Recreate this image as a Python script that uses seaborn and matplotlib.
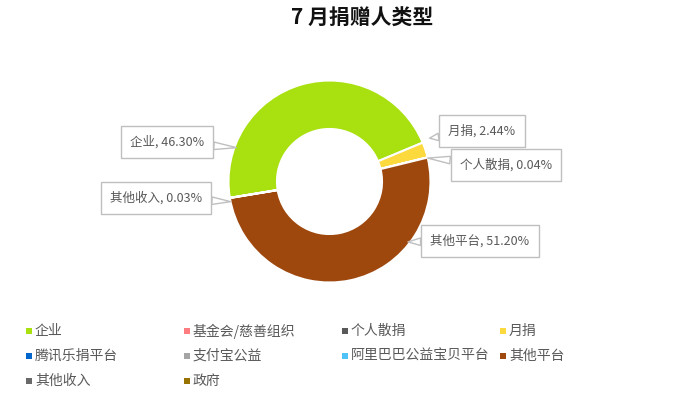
import numpy as np
import matplotlib
matplotlib.use("Agg")
import matplotlib.pyplot as plt
import seaborn as sns

# 数据
categories = ['企业', '基金会/慈善组织', '个人散捐', '月捐',
              '腾讯乐捐平台', '支付宝公益', '阿里巴巴公益宝贝平台', '其他平台',
              '其他收入', '政府']
shares = [46.30, 0.0, 0.04, 2.44, 0.0, 0.0, 0.0, 51.20, 0.03, 0.0]
colors = ['#a8e010', '#ff7c80', '#595959', '#fcd93c',
          '#0066cc', '#a5a5a5', '#4fc3f7', '#9e480e',
          '#696969', '#997300']
# 环形图中扇区的顺时针顺序
pie_order = ['企业', '月捐', '个人散捐', '其他平台', '其他收入']
title = '7 月捐赠人类型'

# 样式
sns.set_theme(style='white')
plt.rcParams['font.family'] = ['Noto Sans CJK SC', 'DejaVu Sans']

W, H = 700, 400
fig = plt.figure(figsize=(7, 4), dpi=100)
ax = fig.add_axes([0, 0, 1, 1])

center = (329.5, H - 181.5)
radius = 101
hole = 0.52

vals = [shares[categories.index(c)] for c in pie_order]
cols = [colors[categories.index(c)] for c in pie_order]
wedges, _ = ax.pie(vals, colors=cols, startangle=189.3, counterclock=False,
                   center=center, radius=radius, frame=True,
                   wedgeprops=dict(width=radius * (1 - hole), edgecolor='white', linewidth=1.5))
ax.set_xlim(0, W)
ax.set_ylim(0, H)
ax.set_aspect('equal')
ax.axis('off')

# 数据标签（位置: 文本中心像素, 指向角度, 半径比例）
label_layout = {
    '企业': ((167, 142), 160, 0.98),
    '月捐': ((482, 131), 23.4, 1.08),
    '个人散捐': ((506, 165), 13.4, 1.0),
    '其他收入': ((156, 198), 191.5, 1.0),
    '其他平台': ((480, 241), -37.6, 0.98),
}
for name in pie_order:
    (tx, ty), ang, rr = label_layout[name]
    v = shares[categories.index(name)]
    px = center[0] + radius * rr * np.cos(np.radians(ang))
    py = center[1] + radius * rr * np.sin(np.radians(ang))
    ax.annotate(f'{name}, {v:.2f}%', xy=(px, py), xytext=(tx, H - ty),
                ha='center', va='center', fontsize=9, color='#595959',
                bbox=dict(boxstyle='square,pad=0.75', fc='white', ec='#bfbfbf', lw=1),
                arrowprops=dict(arrowstyle='wedge,tail_width=0.6', fc='white',
                                ec='#bfbfbf', lw=1, shrinkA=0, shrinkB=0))

# 标题
fig.text(362 / W, 1 - 18 / H, title, ha='center', va='center',
         fontsize=15, fontweight='bold', color='#111111')

# 图例（4 列）
for i, (name, c) in enumerate(zip(categories, colors)):
    col, row = i % 4, i // 4
    x = 29 + 158 * col
    y = H - (331 + 25 * row)
    ax.scatter([x], [y], marker='s', s=18, color=c, linewidths=0)
    ax.text(x + 6, y, name, ha='left', va='center', fontsize=10, color='#595959')

fig.savefig('out.png', dpi=100)
